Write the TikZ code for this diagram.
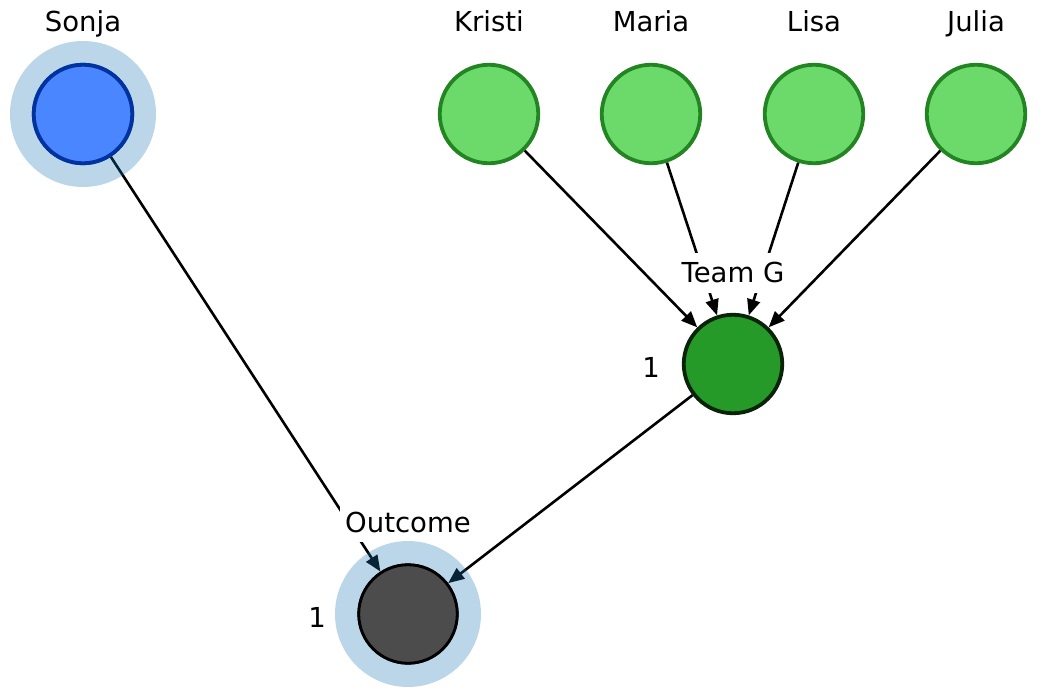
\documentclass[tikz,border=0pt]{standalone}
\usepackage{fontspec}
\setmainfont{DejaVu Sans}
\usetikzlibrary{arrows.meta}
\definecolor{halo}{RGB}{31,119,180}
\definecolor{sonjafill}{RGB}{74,134,255}
\definecolor{sonjaline}{RGB}{0,51,160}
\definecolor{greenfill}{RGB}{107,218,107}
\definecolor{greenline}{RGB}{34,133,34}
\definecolor{teamfill}{RGB}{38,154,40}
\definecolor{teamline}{RGB}{10,36,10}
\definecolor{outfill}{RGB}{76,76,76}
\tikzset{
  nd/.style={circle, minimum size=98.5pt, inner sep=0pt, line width=3.8pt},
  person/.style={nd, draw=greenline, fill=greenfill},
  lbl/.style={font=\fontsize{27.5}{32}\selectfont, inner sep=0pt, anchor=base},
  conn/.style={line width=2.6pt, -{Triangle[length=16pt,width=13pt]}},
  halostyle/.style={fill=halo, fill opacity=0.3}
}
\begin{document}
\begin{tikzpicture}[x=1pt,y=-1pt]
\useasboundingbox (0,0) rectangle (1039,697);
% nodes
\node[nd, draw=sonjaline, fill=sonjafill] (sonja) at (83,114) {};
\node[person] (kristi) at (489,114) {};
\node[person] (maria) at (651,114) {};
\node[person] (lisa) at (814,114) {};
\node[person] (julia) at (976,114) {};
\node[nd, draw=teamline, fill=teamfill] (teamg) at (733,364) {};
\node[nd, draw=black, fill=outfill, line width=2.8pt] (outcome) at (408,614) {};
% connectors
\draw[conn] (sonja) -- (outcome);
\draw[conn] (teamg) -- (outcome);
\draw[conn] (kristi) -- (teamg);
\draw[conn] (maria) -- (teamg);
\draw[conn] (lisa) -- (teamg);
\draw[conn] (julia) -- (teamg);
% label gaps
\fill[white] (680,253) rectangle (788,293);
\fill[white] (340,507) rectangle (476,542);
% halos
\begin{scope}
\fill[halostyle] (sonja.center) circle (73);
\fill[halostyle] (outcome.center) circle (73);
\end{scope}
% redraw nodes on top of halos
\node[nd, draw=sonjaline, fill=sonjafill] at (83,114) {};
\node[nd, draw=black, fill=outfill, line width=2.8pt] at (408,614) {};
% labels
\node[lbl] (lsonja) at (83,31) {Sonja};
\node[lbl] (lkristi) at (489,31) {Kristi};
\node[lbl] (lmaria) at (651,31) {Maria};
\node[lbl] (llisa) at (814,31) {Lisa};
\node[lbl] (ljulia) at (976,31) {Julia};
\node[lbl] (lteamg) at (733,282) {Team G};
\node[lbl] (loutcome) at (408,532) {Outcome};
\node[lbl] (oneteam) at (651,377) {1};
\node[lbl] (oneout) at (317,627) {1};
\end{tikzpicture}
\end{document}
